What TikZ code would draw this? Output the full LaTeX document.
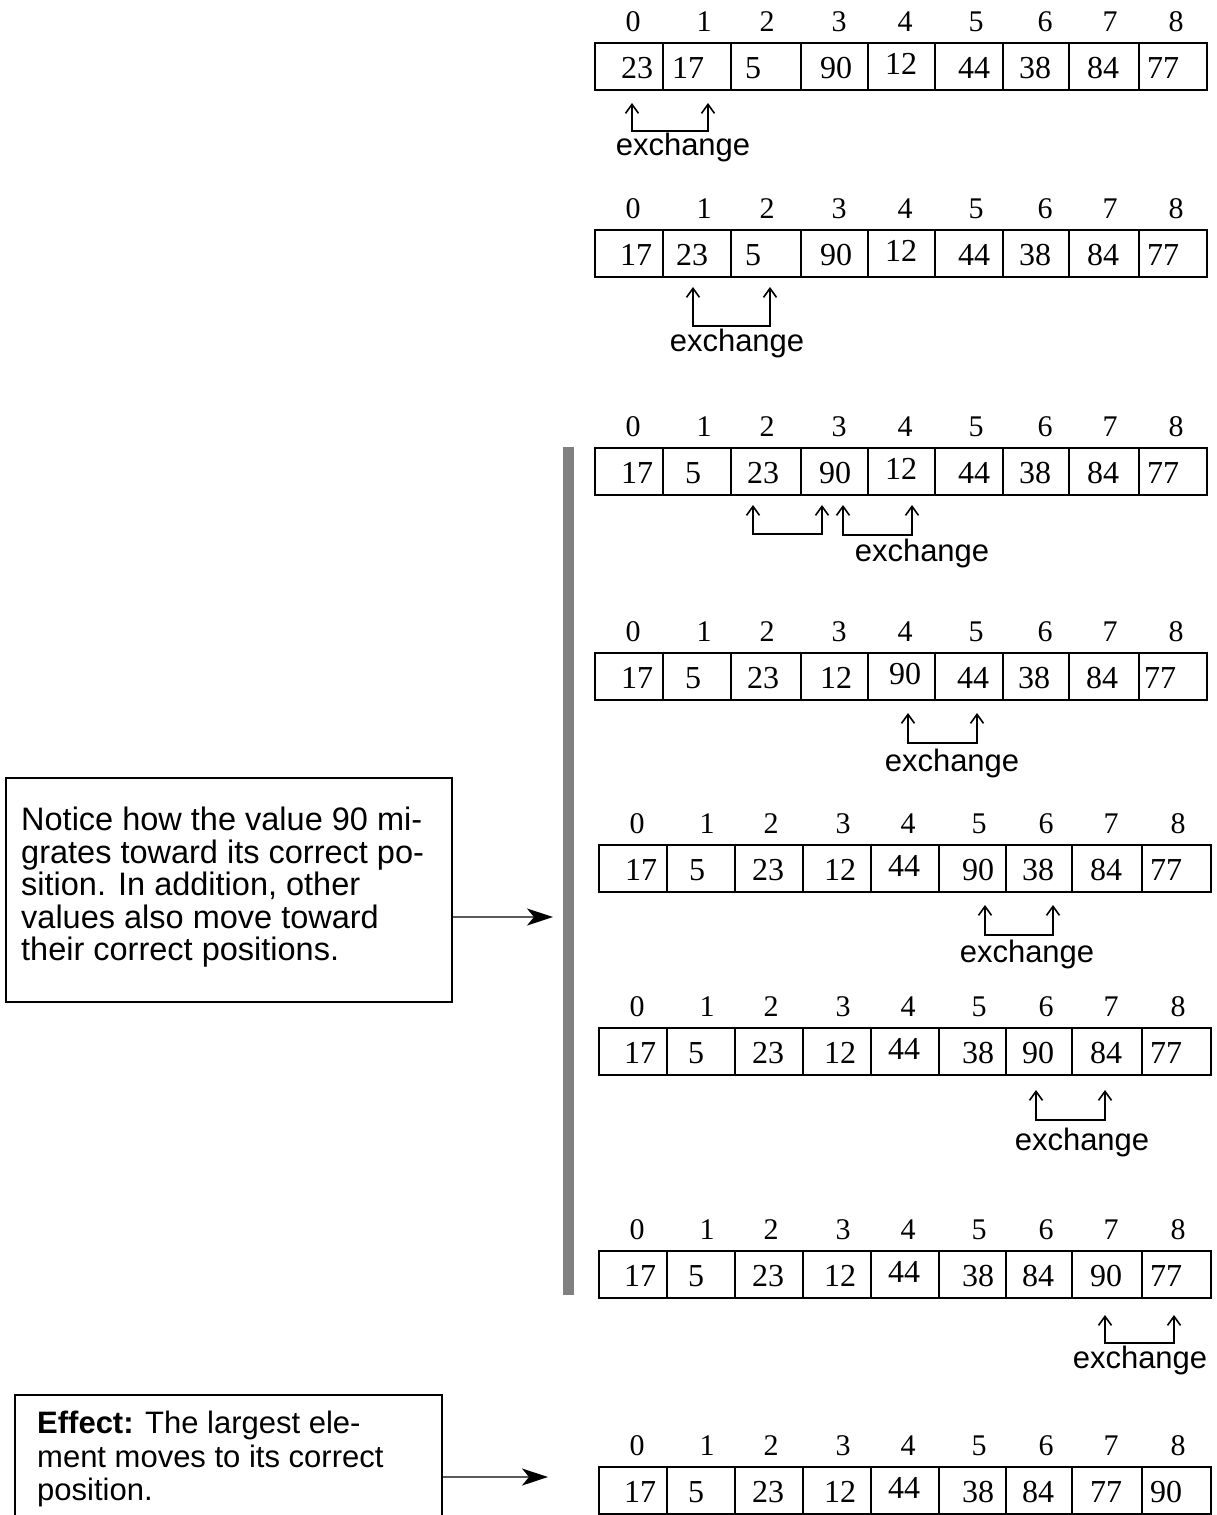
\documentclass[tikz,border=0pt]{standalone}
\usepackage{fontspec}
\setmainfont{Liberation Serif}
\newfontfamily\sansf{Liberation Sans}
\usetikzlibrary{arrows.meta}
\tikzset{
  cellbox/.style={draw, line width=2pt, minimum height=47pt, inner sep=0pt, outer sep=0pt, anchor=north west},
  idxlab/.style={font=\fontsize{30}{30}\selectfont, inner sep=0pt},
  vallab/.style={font=\fontsize{32}{32}\selectfont, inner sep=0pt},
  xlab/.style={font=\sansf\fontsize{31}{31}\selectfont, inner sep=0pt},
  swap/.style={line width=1.6pt, {Straight Barb[length=9pt,width=13pt]}-{Straight Barb[length=9pt,width=13pt]}},
  notebox/.style={draw, line width=2pt, inner sep=0pt, anchor=north west},
  notetext/.style={font=\sansf\fontsize{32.5}{32.5}\selectfont, align=left, inner sep=0pt, anchor=north west},
  noteptr/.style={draw=black!65, line width=1.6pt, -{Stealth[length=26pt,width=17pt,inset=7pt,color=black]}},
  sidebar/.style={fill=gray, inner sep=0pt, anchor=north west}
}
\def\boundsA{595/663,663/731,731/801,801/868,868/935,935/1003,1003/1069,1069/1139,1139/1207}
\def\boundsB{599/667,667/735,735/803,803/871,871/939,939/1006,1006/1072,1072/1142,1142/1211}
\def\idxA{633,704,767,839,905,976,1045,1110,1176}
\def\idxB{637,707,771,843,908,979,1046,1111,1178}
% #1 name, #2 box top, #3 bounds (macro), #4 index x (macro), #5 values
\newcommand\drawarray[5]{%
  \foreach \l/\r [count=\i from 0] in #3 {
    \node[cellbox, minimum width={\r-\l}] (#1c\i) at (\l,#2) {};
  }
  \foreach \x [count=\i from 0] in #4 {
    \node[idxlab] (#1i\i) at (\x,#2-21) {\i};
  }
  \foreach \v/\x [count=\i from 0] in {#5} {
    \pgfmathsetmacro\vy{#2+(\i==4 ? 21 : 25)}
    \node[vallab] (#1v\i) at (\x,\vy) {\v};
  }
}
\begin{document}
\begin{tikzpicture}[x=1pt,y=-1pt]
\useasboundingbox (0,0) rectangle (1217,1515);
\clip (0,0) rectangle (1217,1515);
% arrays
\drawarray{a}{43}{\boundsA}{\idxA}{23/637,17/688,5/753,90/836,12/901,44/974,38/1035,84/1103,77/1163}
\drawarray{b}{230}{\boundsA}{\idxA}{17/636,23/692,5/753,90/836,12/901,44/974,38/1035,84/1103,77/1163}
\drawarray{c}{448}{\boundsA}{\idxA}{17/637,5/693,23/763,90/835,12/901,44/974,38/1035,84/1103,77/1163}
\drawarray{d}{653}{\boundsA}{\idxA}{17/637,5/693,23/763,12/836,90/905,44/973,38/1034,84/1102,77/1160}
\drawarray{e}{845}{\boundsB}{\idxB}{17/641,5/697,23/768,12/840,44/904,90/978,38/1038,84/1106,77/1166}
\drawarray{f}{1028}{\boundsB}{\idxB}{17/640,5/696,23/768,12/840,44/904,38/978,90/1038,84/1106,77/1166}
\drawarray{g}{1251}{\boundsB}{\idxB}{17/640,5/696,23/768,12/840,44/904,38/978,84/1038,90/1106,77/1166}
\drawarray{h}{1467}{\boundsB}{\idxB}{17/640,5/696,23/768,12/840,44/904,38/978,84/1038,77/1106,90/1166}
% exchange brackets
\coordinate (s1a) at (632,103);  \coordinate (s1b) at (708,103);
\draw[swap] (s1a) -- ++(0,28) -| (s1b);
\node[xlab] (x1) at (683,147) {exchange};
\coordinate (s2a) at (693,287);  \coordinate (s2b) at (770,287);
\draw[swap] (s2a) -- ++(0,39) -| (s2b);
\node[xlab] (x2) at (737,343) {exchange};
\coordinate (s3a) at (753,505);  \coordinate (s3b) at (822,505);
\draw[swap] (s3a) -- ++(0,29) -| (s3b);
\coordinate (s3c) at (843,505);  \coordinate (s3d) at (912,505);
\draw[swap] (s3c) -- ++(0,30) -| (s3d);
\node[xlab] (x3) at (922,553) {exchange};
\coordinate (s4a) at (908,713);  \coordinate (s4b) at (977,713);
\draw[swap] (s4a) -- ++(0,30) -| (s4b);
\node[xlab] (x4) at (952,763) {exchange};
\coordinate (s5a) at (985,905);  \coordinate (s5b) at (1053,905);
\draw[swap] (s5a) -- ++(0,30) -| (s5b);
\node[xlab] (x5) at (1027,954) {exchange};
\coordinate (s6a) at (1036,1090);  \coordinate (s6b) at (1105,1090);
\draw[swap] (s6a) -- ++(0,30) -| (s6b);
\node[xlab] (x6) at (1082,1142) {exchange};
\coordinate (s7a) at (1105,1315);  \coordinate (s7b) at (1174,1315);
\draw[swap] (s7a) -- ++(0,28) -| (s7b);
\node[xlab] (x7) at (1140,1360) {exchange};
% side bar
\node[sidebar, minimum width=11pt, minimum height=848pt] (bar) at (563,447) {};
% note boxes
\node[notebox, minimum width=446pt, minimum height=224pt] (note1) at (5,777) {};
\node[notetext] (note1txt) at (21,807) {Notice how the value 90 mi-\\grates toward its correct po-\\sition. In addition, other\\values also move toward\\their correct positions.};
\coordinate (n1y) at (0,917);
\draw[noteptr, shorten >=10pt] (note1.east |- n1y) -- (bar.west |- n1y);
\node[notebox, minimum width=427pt, minimum height=160pt] (note2) at (14,1394) {};
\node[notetext, font=\sansf\fontsize{31}{33.5}\selectfont] (note2txt) at (37,1411) {\textbf{Effect:} The largest ele-\\ment moves to its correct\\position.};
\coordinate (n2y) at (0,1477);
\draw[noteptr, shorten >=15pt] (note2.east |- n2y) -- (bar.west |- n2y);
\end{tikzpicture}
\end{document}
